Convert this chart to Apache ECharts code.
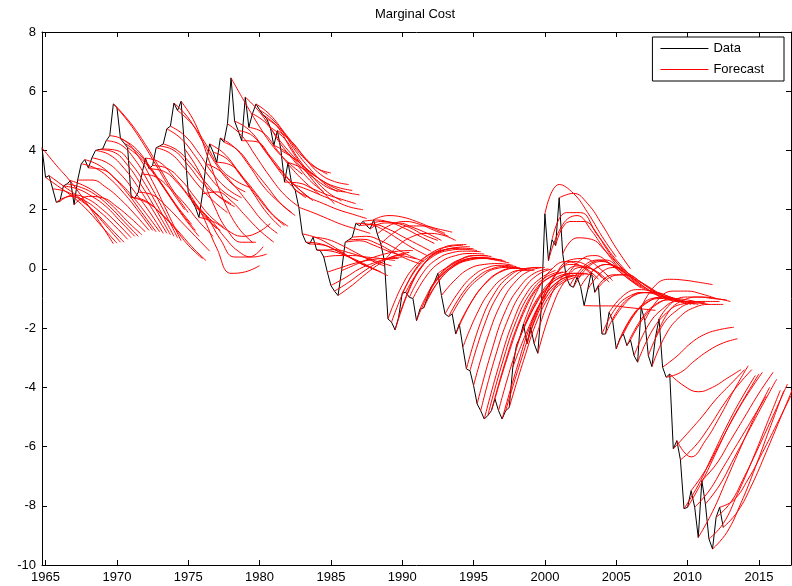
<!DOCTYPE html>
<html><head><meta charset="utf-8">
<script src="https://cdn.jsdelivr.net/npm/echarts@6/dist/echarts.min.js"></script>
<style>html,body{margin:0;padding:0;background:#fff}#chart{width:792px;height:586px}</style>
</head><body><div id="chart"></div>
<script>
// quarterly observations start at 1964 Q4
const firstQuarter = 1964.75;
const xTickYears = [1965, 1970, 1975, 1980, 1985, 1990, 1995, 2000, 2005, 2010, 2015];
const forecastHorizons = [4, 8, 12, 16, 20]; // quarters ahead at which forecast values are read

const dataValues = [
  4.09, 3.09, 3.15, 2.7, 2.25, 2.28, 2.8, 2.87, 2.98, 2.17,
  3.0, 3.55, 3.69, 3.41, 3.75, 4.0, 4.03, 4.05, 4.33, 4.5,
  5.57, 5.46, 4.4, 4.25, 4.1, 2.42, 2.39, 2.59, 3.2, 3.74,
  3.38, 3.49, 4.09, 4.15, 4.22, 4.73, 4.82, 5.6, 5.35, 5.66,
  4.05, 2.6, 2.3, 2.08, 1.74, 2.53, 3.55, 4.22, 3.94, 3.6,
  4.42, 4.28, 4.9, 6.45, 4.99, 4.67, 4.33, 5.8, 4.78, 5.24,
  5.57, 5.37, 5.2, 5.07, 4.78, 4.17, 4.67, 4.0, 2.93, 3.6,
  2.87, 2.65, 2.08, 1.18, 0.9, 0.84, 1.07, 0.64, 0.62, 0.4,
  -0.11, -0.56, -0.75, -0.9, -0.06, 0.9, 0.98, 1.07, 1.54, 1.46,
  1.61, 1.46, 1.35, 1.66, 1.18, 0.84, 0.28, -1.69, -1.8, -2.06,
  -1.63, -0.82, -0.79, -0.96, -1.0, -1.75, -1.35, -1.32, -1.0, -0.64,
  -0.45, -0.15, -0.9, -1.52, -1.61, -1.52, -2.2, -1.86, -2.65, -3.38,
  -3.44, -3.94, -4.56, -4.79, -5.07, -4.95, -4.79, -4.39, -4.79, -5.07,
  -4.79, -4.68, -3.32, -2.6, -2.31, -1.86, -2.53, -1.97, -2.53, -2.85,
  -1.3, 1.86, 0.28, 0.98, 0.79, 2.4, 0.51, -0.28, -0.56, -0.62,
  -0.28, -0.6, -1.24, -0.7, -0.11, -0.79, -0.56, -2.2, -2.2, -1.47,
  -1.75, -2.7, -2.36, -2.2, -2.59, -2.4, -2.93, -3.15, -1.3, -1.75,
  -2.93, -3.3, -2.31, -1.69, -3.32, -3.66, -3.55, -6.08, -5.8, -6.45,
  -8.1, -8.05, -7.49, -8.05, -9.07, -7.15, -7.94, -9.12, -9.46, -8.39,
  -8.05, -8.73
];

// one row per forecast origin (in quarter order), values at 4, 8, 12, 16, 20 quarters ahead
const forecasts1965 = [
  [3.5,2.95,2.3,1.6,0.85],[2.75,2.4,1.95,1.4,0.87],[2.8,2.45,2.0,1.45,0.9],[2.6,2.3,1.9,1.4,0.9],
  [2.45,2.3,1.95,1.5,1.0],[2.5,2.35,2.0,1.55,1.05],[2.7,2.45,2.1,1.6,1.1],[2.75,2.5,2.1,1.6,1.1],
  [2.8,2.5,2.1,1.6,1.15],[2.45,2.4,2.1,1.7,1.25],[3.0,2.75,2.35,1.85,1.3],[3.4,3.05,2.55,1.95,1.3],
  [3.5,3.1,2.55,1.9,1.25],[3.35,3.0,2.5,1.9,1.25],[3.6,3.2,2.6,1.95,1.2],[3.85,3.4,2.75,2.0,1.2],
  [3.95,3.5,2.8,2.0,1.15],[4.0,3.55,2.85,2.0,1.1],[4.2,3.7,2.9,2.0,1.05],[4.35,3.8,2.95,1.95,0.95]
];
const forecasts1970 = [
  [5.0,4.3,3.5,2.7,2.0],[4.9,4.2,3.4,2.6,1.9],[4.1,3.5,2.8,2.1,1.5],[3.9,3.3,2.6,1.9,1.3],
  [3.7,3.1,2.4,1.7,1.1],[2.3,1.9,1.4,0.8,0.35],[2.2,1.8,1.3,0.75,0.28],[2.5,2.1,1.6,1.1,0.6],
  [3.1,2.7,2.2,1.6,1.1],[3.6,3.1,2.5,1.9,1.35],[3.3,2.9,2.3,1.7,1.3],[3.4,3.0,2.4,1.8,1.4],
  [3.9,3.4,2.8,2.3,1.9],[4.0,3.5,2.9,2.5,2.2],[4.0,3.5,2.9,2.4,2.1],[4.4,3.8,3.1,2.6,2.3],
  [4.5,3.9,3.2,2.7,2.4],[5.1,4.3,3.5,2.9,2.6],[4.9,4.2,3.4,3.0,2.76],[4.9,3.6,2.3,1.4,0.9]
];
const forecasts1975 = [
  [3.3,2.2,1.3,0.9,0.9],[1.8,0.7,-0.15,-0.1,0.11],[1.8,1.0,0.4,0.4,0.75],[1.7,1.1,0.6,0.4,0.5],
  [1.6,1.3,1.1,1.2,1.53],[2.6,2.3,1.8,1.3,0.9],[3.3,2.8,2.2,1.6,1.2],[3.9,3.3,2.6,1.9,1.4],
  [3.7,3.1,2.5,1.9,1.46],[3.5,3.0,2.4,1.8,1.44],[4.1,3.5,2.8,2.3,1.9],[4.0,3.4,2.8,2.2,1.8],
  [4.5,3.8,3.1,2.5,2.1],[5.6,4.8,4.1,3.6,3.2],[4.7,4.1,3.4,2.8,2.4],[4.5,3.9,3.3,2.8,2.4],
  [4.3,3.8,3.2,2.7,2.3],[5.3,4.6,4.0,3.5,3.1],[4.6,4.0,3.4,2.9,2.5],[4.9,4.2,3.6,3.0,2.6]
];
const forecasts1980 = [
  [5.2,4.6,4.0,3.5,3.2],[5.0,4.4,3.8,3.4,3.24],[4.8,4.0,3.3,2.7,2.2],[4.7,4.0,3.4,2.9,2.6],
  [4.4,3.7,3.1,2.6,2.3],[3.9,3.4,3.0,2.7,2.6],[4.3,3.7,3.2,2.95,2.85],[3.7,3.3,2.95,2.75,2.65],
  [2.9,2.7,2.5,2.35,2.2],[3.4,3.1,2.8,2.6,2.5],[2.7,2.5,2.3,2.1,2.0],[2.4,2.2,2.0,1.85,1.7],
  [1.9,1.7,1.5,1.35,1.2],[1.05,0.8,0.5,0.2,0.0],[0.85,0.65,0.4,0.15,-0.05],[0.8,0.6,0.35,0.1,-0.1],
  [1.0,0.8,0.55,0.3,0.1],[0.6,0.45,0.25,0.0,-0.23],[0.65,0.55,0.4,0.25,0.1],[0.45,0.45,0.4,0.35,0.28]
];
const forecasts1985 = [
  [0.05,0.2,0.3,0.35,0.35],[-0.3,0.0,0.2,0.35,0.4],[-0.45,-0.1,0.2,0.4,0.5],[-0.55,-0.15,0.2,0.45,0.56],
  [0.15,0.35,0.5,0.6,0.62],[0.95,0.8,0.6,0.45,0.34],[1.0,0.85,0.6,0.35,0.17],[1.1,0.95,0.7,0.45,0.25],
  [1.5,1.3,1.0,0.7,0.45],[1.5,1.35,1.1,0.85,0.6],[1.65,1.55,1.35,1.1,0.86],[1.6,1.55,1.4,1.15,0.96],
  [1.55,1.55,1.4,1.2,0.96],[1.8,1.75,1.6,1.4,1.2],[1.5,1.6,1.5,1.3,1.1],[1.25,1.45,1.45,1.35,1.24],
  [0.8,1.1,1.2,1.15,0.96],[-0.55,0.15,0.5,0.65,0.7],[-0.6,0.2,0.6,0.75,0.8],[-0.7,0.15,0.6,0.8,0.82]
];
const forecasts1990 = [
  [-0.4,0.3,0.6,0.72,0.75],[0.0,0.45,0.65,0.7,0.68],[0.0,0.45,0.62,0.66,0.62],[-0.1,0.35,0.55,0.6,0.58],
  [-0.2,0.25,0.45,0.52,0.5],[-0.7,-0.05,0.3,0.45,0.45],[-0.45,0.1,0.35,0.45,0.42],[-0.45,0.05,0.3,0.38,0.35],
  [-0.3,0.12,0.3,0.35,0.3],[-0.1,0.22,0.35,0.35,0.3],[0.0,0.28,0.38,0.35,0.25],[0.15,0.33,0.37,0.3,0.2],
  [-0.35,0.02,0.15,0.18,0.12],[-0.75,-0.22,0.05,0.12,0.08],[-0.8,-0.28,0.0,0.08,0.03],[-0.75,-0.28,0.0,0.05,0.0],
  [-1.2,-0.52,-0.12,0.02,-0.02],[-1.0,-0.42,-0.08,0.02,-0.02],[-1.5,-0.7,-0.25,-0.05,-0.05],[-1.8,-0.8,-0.25,0.0,0.05]
];
const forecasts1995 = [
  [-1.9,-0.85,-0.3,0.0,0.05],[-2.3,-1.1,-0.4,-0.05,0.05],[-2.8,-1.4,-0.6,-0.15,0.0],[-3.0,-1.6,-0.7,-0.2,0.0],
  [-3.3,-1.8,-0.8,-0.3,-0.05],[-3.2,-1.75,-0.8,-0.3,-0.1],[-3.1,-1.7,-0.75,-0.3,-0.1],[-2.8,-1.5,-0.65,-0.25,-0.1],
  [-3.1,-1.7,-0.8,-0.3,-0.15],[-3.4,-1.9,-0.9,-0.4,-0.2],[-3.2,-1.8,-0.85,-0.4,-0.2],[-3.1,-1.7,-0.8,-0.4,-0.25],
  [-2.1,-1.1,-0.5,-0.25,-0.2],[-1.5,-0.7,-0.3,-0.15,-0.15],[-1.3,-0.6,-0.25,-0.15,-0.2],[-0.7,0.0,0.25,0.1,-0.3],
  [-1.1,-0.2,0.15,0.05,-0.35],[-0.8,-0.05,0.25,0.1,-0.3],[-1.1,-0.25,0.1,0.0,-0.4],[-1.3,-0.35,0.05,-0.05,-0.45]
];
const forecasts2000 = [
  [-0.2,0.3,0.35,0.05,-0.4],[2.85,2.55,1.9,1.1,0.4],[1.5,1.8,1.3,0.6,0.0],[1.9,1.9,1.3,0.55,-0.05],
  [1.6,1.6,1.1,0.45,-0.1],[2.55,2.2,1.5,0.7,0.0],[1.05,1.0,0.6,0.1,-0.3],[0.3,0.45,0.2,-0.2,-0.55],
  [0.1,0.3,0.1,-0.3,-0.65],[0.05,0.25,0.05,-0.35,-0.7],[0.2,0.3,0.0,-0.4,-0.75],[0.0,0.15,-0.1,-0.45,-0.8],
  [-1.25,-1.25,-1.3,-1.35,-1.4],[-0.1,0.05,-0.2,-0.55,-0.9],[0.15,0.0,-0.35,-0.7,-1.0],[-0.3,-0.2,-0.4,-0.7,-1.0],
  [-0.2,-0.2,-0.45,-0.75,-1.05],[-1.3,-0.9,-0.8,-0.9,-1.1],[-1.3,-0.9,-0.8,-0.9,-1.1],[-0.9,-0.7,-0.75,-0.9,-1.1]
];
const forecasts2005 = [
  [-1.1,-0.8,-0.8,-0.95,-1.15],[-1.7,-1.2,-1.0,-1.05,-1.2],[-1.5,-1.1,-0.95,-1.05,-1.2],[-1.4,-1.0,-0.95,-1.05,-1.2],
  [-1.7,-1.2,-1.05,-1.1,-1.2],[-1.6,-1.15,-1.0,-1.05,-1.15],[-1.9,-1.35,-1.1,-1.1,-1.15],[-2.1,-1.5,-1.2,-1.15,-1.2],
  [-0.55,-0.35,-0.38,-0.45,-0.53],[-1.0,-0.75,-0.75,-0.85,-1.0],[-1.9,-1.4,-1.15,-1.1,-1.1],[-2.2,-1.6,-1.3,-1.2,-1.2],
  [-1.4,-1.05,-0.95,-1.0,-1.05],[-1.1,-0.95,-0.95,-1.0,-1.1],[-2.95,-2.5,-2.2,-2.05,-1.97],[-3.5,-3.1,-2.75,-2.5,-2.36],
  [-3.95,-4.15,-4.0,-3.7,-3.4],[-5.55,-5.0,-4.4,-3.9,-3.4],[-6.35,-5.8,-5.0,-4.1,-3.27],[-6.0,-5.35,-4.6,-3.95,-3.4]
];
const forecasts2010 = [
  [-7.3,-6.3,-5.3,-4.4,-3.6],[-7.2,-6.2,-5.2,-4.35,-3.55],[-6.8,-5.9,-5.0,-4.2,-3.49],[-7.5,-6.7,-5.9,-5.1,-4.3],
  [-8.2,-7.1,-6.0,-4.95,-4.0],[-6.6,-5.8,-5.0,-4.2,-3.49],[-7.3,-6.4,-5.5,-4.6,-3.72],[-8.6,-7.6,-6.5,-5.3,-4.1],
  [-8.9,-7.9,-6.7,-5.4,-4.11],[-7.9,-7.0,-6.0,-4.95,-3.89],[-7.8,-7.1,-6.2,-5.25,-4.28],[-8.2,-7.3,-6.2,-5.05,-3.9]
];

const allForecasts = [].concat(forecasts1965, forecasts1970, forecasts1975, forecasts1980, forecasts1985,
  forecasts1990, forecasts1995, forecasts2000, forecasts2005, forecasts2010);

const dates = dataValues.map((v, i) => firstQuarter + i / 4);
const FONT = "'Liberation Sans', Arial, Helvetica, sans-serif";

const series = [{
  name: 'Data', type: 'line',
  data: dates.map((d, i) => [d, dataValues[i]]),
  symbol: 'none', showSymbol: false,
  lineStyle: { color: '#000', width: 1 }, itemStyle: { color: '#000' },
  silent: true, z: 2
}];
allForecasts.forEach((f, i) => {
  const pts = [[dates[i], dataValues[i]]];
  forecastHorizons.forEach((h, k) => pts.push([dates[i] + h / 4, f[k]]));
  series.push({
    name: 'Forecast', type: 'line', data: pts,
    smooth: 0.45,
    symbol: 'none', showSymbol: false,
    lineStyle: { color: '#ff0000', width: 1 }, itemStyle: { color: '#ff0000' },
    silent: true, z: 3
  });
});

const axisLineStyle = { color: '#000', width: 1 };
const chart = echarts.init(document.getElementById('chart'), null, { renderer: 'canvas' });
chart.setOption({
  animation: false,
  backgroundColor: '#fff',
  title: {
    text: 'Marginal Cost', left: 375, top: 8, padding: 0,
    textStyle: { fontFamily: FONT, fontSize: 13, fontWeight: 'normal', color: '#000' }
  },
  legend: {
    data: [
      { name: 'Data', icon: 'rect', itemStyle: { color: '#000' } },
      { name: 'Forecast', icon: 'rect', itemStyle: { color: '#ff0000' } }
    ],
    orient: 'vertical', right: 8, top: 37,
    itemWidth: 48, itemHeight: 1, itemGap: 8,
    padding: [5, 20, 5, 8],
    borderColor: '#000', borderWidth: 1, backgroundColor: '#fff',
    textStyle: { fontFamily: FONT, fontSize: 13, color: '#000' },
    selectedMode: false
  },
  grid: { left: 42, right: 1, top: 32, bottom: 21, containLabel: false },
  xAxis: [{
    type: 'value', min: 1964.75, max: 2017.25, position: 'bottom',
    axisLine: { show: true, onZero: false, lineStyle: axisLineStyle },
    axisTick: { show: true, inside: true, length: 5, customValues: xTickYears, lineStyle: axisLineStyle },
    axisLabel: { customValues: xTickYears, color: '#000', fontFamily: FONT, fontSize: 13, margin: 6,
      formatter: v => String(Math.round(v)) },
    splitLine: { show: false }
  }, {
    type: 'value', min: 1964.75, max: 2017.25, position: 'top',
    axisLine: { show: true, onZero: false, lineStyle: axisLineStyle },
    axisTick: { show: true, inside: true, length: 5, customValues: xTickYears, lineStyle: axisLineStyle },
    axisLabel: { show: false },
    splitLine: { show: false }
  }],
  yAxis: [{
    type: 'value', min: -10, max: 8, interval: 2, position: 'left',
    axisLine: { show: true, onZero: false, lineStyle: axisLineStyle },
    axisTick: { show: true, inside: true, length: 5, lineStyle: axisLineStyle },
    axisLabel: { color: '#000', fontFamily: FONT, fontSize: 13, margin: 6 },
    splitLine: { show: false }
  }, {
    type: 'value', min: -10, max: 8, interval: 2, position: 'right',
    axisLine: { show: true, onZero: false, lineStyle: axisLineStyle },
    axisTick: { show: true, inside: true, length: 5, lineStyle: axisLineStyle },
    axisLabel: { show: false },
    splitLine: { show: false }
  }],
  series: series
});
</script>
</body></html>
